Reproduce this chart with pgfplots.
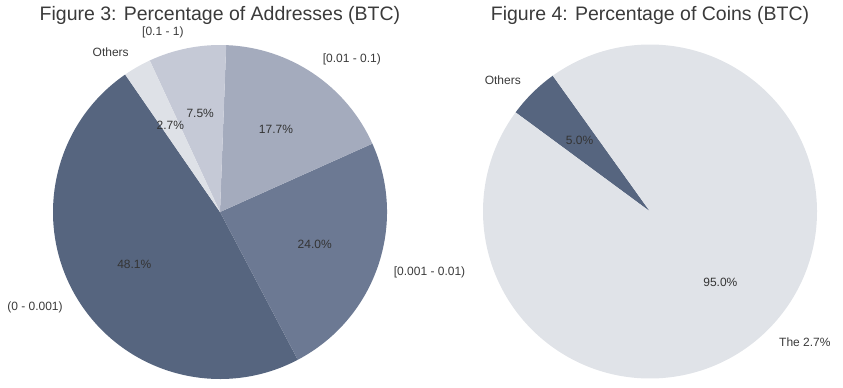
\documentclass[border=0pt]{standalone}
\usepackage{fontspec}
\setmainfont{Liberation Sans}
\usepackage{pgfplots}
\pgfplotsset{compat=1.18}
\definecolor{cA}{HTML}{56657F}
\definecolor{cB}{HTML}{6C7993}
\definecolor{cC}{HTML}{A4ABBD}
\definecolor{cD}{HTML}{C5C9D6}
\definecolor{cE}{HTML}{DEE1E7}
\definecolor{cBig}{HTML}{E0E3E8}
\definecolor{txt}{HTML}{3A3A3A}
\def\R{167pt}
% #1 start angle, #2 percentage, #3 colour, #4 label, #5 anchor, #6 percentage text
\newcommand{\slice}[6]{%
  \fill[#3] (axis cs:0,0) -- ++({#1}:\R) arc[start angle={#1}, delta angle={3.6*#2}, radius=\R] -- cycle;
  \node[anchor=#5, lbl] at (axis cs:{1.1*cos(#1+1.8*#2)},{1.1*sin(#1+1.8*#2)}) {#4};
  \node[pct] at (axis cs:{0.6*cos(#1+1.8*#2)},{0.6*sin(#1+1.8*#2)}) {#6};
}
\tikzset{lbl/.style={font=\fontsize{12}{14}\selectfont, text=txt, inner sep=0pt},
         pct/.style={font=\fontsize{12}{14}\selectfont, text=txt!90!black, inner sep=0pt},
         ttl/.style={font=\fontsize{19.5}{22}\selectfont, text=txt, inner sep=0pt}}
\pgfplotsset{pie/.style={scale only axis, width=334pt, height=334pt,
   xmin=-1, xmax=1, ymin=-1, ymax=1, hide axis, clip=false, anchor=south west}}
\begin{document}
\begin{tikzpicture}
\useasboundingbox (0,0) rectangle (843pt,388pt);
\begin{axis}[pie, at={(53pt,9pt)}]
  \slice{124.6}{48.1}{cA}{(0 - 0.001)}{east}{48.1\%}
  \slice{(124.6+3.6*48.1)}{24.0}{cB}{[0.001 - 0.01)}{west}{24.0\%}
  \slice{(124.6+3.6*72.1)}{17.7}{cC}{[0.01 - 0.1)}{west}{17.7\%}
  \slice{(124.6+3.6*89.8)}{7.5}{cD}{[0.1 - 1)}{east}{7.5\%}
  \slice{(124.6+3.6*97.3)}{2.7}{cE}{Others}{east}{2.7\%}
  \node[ttl] at (axis cs:0,1.175) {Figure 3: Percentage of Addresses (BTC)};
\end{axis}
\begin{axis}[pie, at={(483pt,9.5pt)}]
  \slice{125.6}{5.0}{cA}{Others}{east}{5.0\%}
  \slice{143.6}{95.0}{cBig}{The 2.7\%}{west}{95.0\%}
  \node[ttl] at (axis cs:0,1.175) {Figure 4: Percentage of Coins (BTC)};
\end{axis}
\end{tikzpicture}
\end{document}
